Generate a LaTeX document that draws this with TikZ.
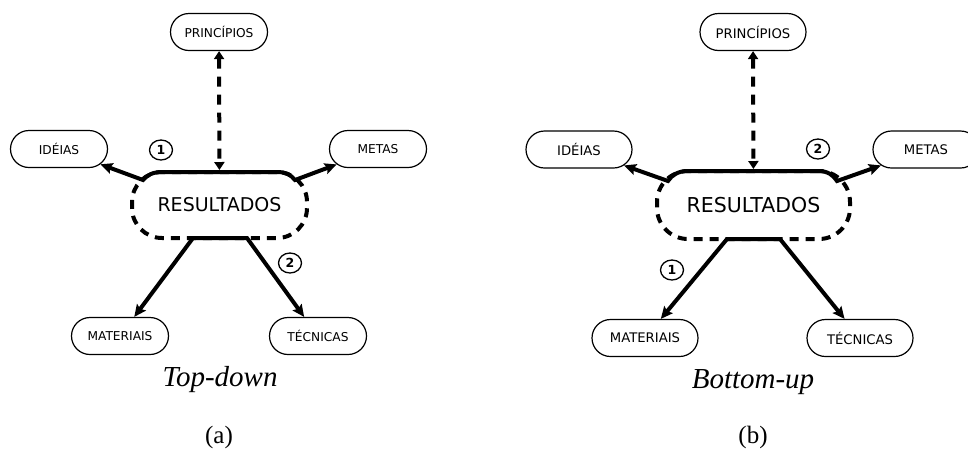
\documentclass[tikz,border=0pt]{standalone}
\usepackage{fontspec}
\setmainfont{Liberation Serif}
\newfontfamily\lbl{DejaVu Sans}
\usetikzlibrary{arrows.meta,shapes.misc,shapes.geometric,calc}
\begin{document}
\begin{tikzpicture}[x=1pt,y=-1pt,
 box/.style={draw,rounded rectangle,line width=1.2pt,minimum height=37pt,inner sep=0pt},
 boxa/.style={box,minimum width=97pt,font=\lbl\fontsize{12.2}{14}\selectfont},
 boxb/.style={box,minimum width=106pt,font=\lbl\fontsize{13.2}{15}\selectfont},
 res/.style={draw,line width=4pt,dash pattern=on 9pt off 7pt,inner sep=0pt},
 conn/.style={line width=4pt,line join=miter,{Stealth[length=12pt,width=11pt,inset=2pt]}-{Stealth[length=12pt,width=11pt,inset=2pt]}},
 dd/.style={line width=4pt,dash pattern=on 10pt off 8pt,{Triangle[length=8pt,width=10pt]}-{Triangle[length=8pt,width=10pt]}},
 num/.style={draw,ellipse,line width=1.3pt,minimum width=23pt,minimum height=20pt,inner sep=0pt,font=\lbl\bfseries\fontsize{12.5}{13}\selectfont},
 captxt/.style={font=\itshape\fontsize{29}{32}\selectfont},
 subtxt/.style={font=\fontsize{25}{28}\selectfont}]
\useasboundingbox (0,0) rectangle (968,448);
% ---------- panel (a)
\node[boxa] (prA) at (219,32) {PRINCÍPIOS};
\node[boxa] (ideA) at (59,149) {IDÉIAS};
\node[boxa] (metA) at (378,149) {METAS};
\node[boxa] (matA) at (120,336) {MATERIAIS};
\node[boxa] (tecA) at (318,336) {TÉCNICAS};
\node[res,rounded corners=30pt,minimum width=175pt,minimum height=66pt,font=\lbl\fontsize{19}{22}\selectfont] (resA) at (219.5,205) {RESULTADOS};
\coordinate (aL) at (143,180);
\coordinate (aR) at (295,180);
\coordinate (aBL) at (193,238);
\coordinate (aBR) at (247,238);
\draw[conn] (ideA) -- (aL) .. controls (147,175) and (153,172) .. (162,172) -- (277,172) .. controls (286,172) and (291,175) .. (aR) -- (metA);
\draw[conn] (matA) -- (aBL) -- (aBR) -- (tecA);
\draw[dd] (prA) -- (resA);
\node[num] (nA1) at (161,150) {1};
\node[num] (nA2) at (290,263) {2};
\node[captxt] (tdA) at (220,380) {Top-down};
\node[subtxt] (lbA) at (219,437) {(a)};
% ---------- panel (b)
\node[boxb] (prB) at (753,32) {PRINCÍPIOS};
\node[boxb] (ideB) at (579,149.5) {IDÉIAS};
\node[boxb] (metB) at (926,149.5) {METAS};
\node[boxb] (matB) at (645,338) {MATERIAIS};
\node[boxb] (tecB) at (860,338) {TÉCNICAS};
\node[res,rounded corners=31pt,minimum width=193pt,minimum height=68pt,font=\lbl\fontsize{20.5}{24}\selectfont] (resB) at (753.5,205) {RESULTADOS};
\coordinate (bL) at (668,181);
\coordinate (bR) at (837,181);
\coordinate (bBL) at (727,239);
\coordinate (bBR) at (780,239);
\draw[conn] (ideB) -- (bL) .. controls (672,175) and (678,171) .. (688,171) -- (818,171) .. controls (828,171) and (833,175) .. (bR) -- (metB);
\draw[conn] (matB) -- (bBL) -- (bBR) -- (tecB);
\draw[dd] (prB) -- (resB);
\node[num] (nB2) at (818,149) {2};
\node[num] (nB1) at (672,270) {1};
\node[captxt] (buB) at (753,382) {Bottom-up};
\node[subtxt] (lbB) at (753,437) {(b)};
\end{tikzpicture}
\end{document}
